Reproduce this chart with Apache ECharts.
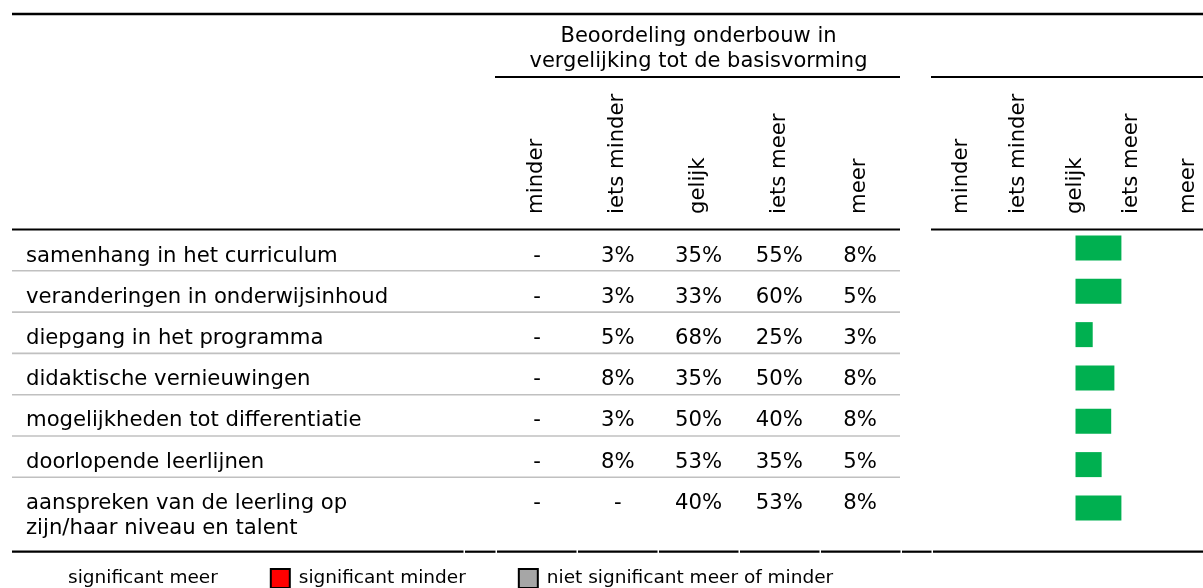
<!DOCTYPE html>
<html><head><meta charset="utf-8">
<script src="https://cdn.jsdelivr.net/npm/echarts@6/dist/echarts.min.js"></script>
<style>html,body{margin:0;padding:0;background:#fff}#c{width:1203px;height:588px}</style>
</head><body><div id="c"></div>
<script>
// ---- data ----
const items = [
  'samenhang in het curriculum',
  'veranderingen in onderwijsinhoud',
  'diepgang in het programma',
  'didaktische vernieuwingen',
  'mogelijkheden tot differentiatie',
  'doorlopende leerlijnen',
  'aanspreken van de leerling op\nzijn/haar niveau en talent'
];
const answers = ['minder', 'iets minder', 'gelijk', 'iets meer', 'meer'];
const pctMinder     = [null, null, null, null, null, null, null];
const pctIetsMinder = [3, 3, 5, 8, 3, 8, null];
const pctGelijk     = [35, 33, 68, 35, 50, 53, 40];
const pctIetsMeer   = [55, 60, 25, 50, 40, 35, 53];
const pctMeer       = [8, 5, 3, 8, 8, 5, 8];
// bar = deviation of the judgement from 'gelijk'
const barValues = [0.72, 0.72, 0.27, 0.61, 0.56, 0.41, 0.72];
const headerTitle = 'Beoordeling onderbouw in\nvergelijking tot de basisvorming';
const legendNames = ['significant meer', 'significant minder', 'niet significant meer of minder'];

// ---- build ----
const FONT = "'DejaVu Sans', Verdana, sans-serif";
const FS = 21.2;
const columns = [pctMinder, pctIetsMinder, pctGelijk, pctIetsMeer, pctMeer];
const tableData = [];
columns.forEach((col, c) => col.forEach((v, r) => tableData.push([c, r, v])));

// layout
const T = { left: 496.6, width: 403.75, top: 235.9, height: 287.9 };
const B = { left: 948, width: 256, top: 226.3, height: 303.3 };
const H = { left: 961.5, width: 227 };
const X0 = 12, XT = 900, XR = 931, XE = 1203;

function line(x1, y1, x2, y2, stroke, w) {
  return { type: 'line', silent: true, shape: { x1, y1, x2, y2 }, style: { stroke, lineWidth: w } };
}
const rules = [];
rules.push(line(X0, 14, XE, 14, '#000', 2.6));
rules.push(line(495, 77, XT, 77, '#000', 2.2));
rules.push(line(XR, 77, XE, 77, '#000', 2.2));
rules.push(line(X0, 229.5, XT, 229.5, '#000', 2.2));
rules.push(line(XR, 229.5, XE, 229.5, '#000', 2.2));
for (let k = 1; k < items.length; k++) {
  const y = 229.5 + 41.3 * k;
  rules.push(line(X0, y, XT, y, '#c0c0c0', 1.6));
}
const edges = [X0, 465, 497, 578, 659, 740, 821, 902, 933, XE + 1.5];
for (let i = 0; i < edges.length - 1; i++) {
  rules.push(line(edges[i], 551.7, edges[i + 1] - 1.5, 551.7, '#000', 2.2));
}

const headLabel = { interval: 0, rotate: 90, margin: 22, fontSize: FS, color: '#000', fontFamily: FONT };

const chart = echarts.init(document.getElementById('c'), null, { renderer: 'canvas' });
chart.setOption({
  animation: false,
  backgroundColor: '#fff',
  textStyle: { fontFamily: FONT, color: '#000' },
  title: {
    text: headerTitle, left: 693.5, top: 19, textAlign: 'center',
    textStyle: { fontFamily: FONT, fontSize: 21, fontWeight: 'normal', lineHeight: 25, color: '#000' }
  },
  legend: {
    data: [
      { name: legendNames[0], itemStyle: { opacity: 0 } },
      { name: legendNames[1] },
      { name: legendNames[2] }
    ],
    left: 35, top: 563, itemWidth: 19, itemHeight: 19, itemGap: 52, icon: 'rect',
    selectedMode: false,
    textStyle: { fontFamily: FONT, fontSize: 18.5, color: '#000', padding: [0, 0, 0, 4] }
  },
  grid: [
    { left: T.left, top: T.top, width: T.width, height: T.height },
    { left: B.left, top: B.top, width: B.width, height: B.height },
    { left: H.left, top: T.top, width: H.width, height: T.height },
    { left: T.left, top: T.top, width: T.width, height: T.height }
  ],
  xAxis: [
    { gridIndex: 0, type: 'category', data: answers, show: false },
    { gridIndex: 1, type: 'value', min: -2, max: 2, show: false },
    { gridIndex: 2, type: 'category', data: answers, position: 'top', boundaryGap: false,
      axisLine: { show: false }, axisTick: { show: false }, splitLine: { show: false },
      axisLabel: headLabel },
    { gridIndex: 3, type: 'category', data: answers, position: 'top',
      axisLine: { show: false }, axisTick: { show: false }, splitLine: { show: false },
      axisLabel: headLabel }
  ],
  yAxis: [
    { gridIndex: 0, type: 'category', data: items, inverse: true,
      axisLine: { show: false }, axisTick: { show: false }, splitLine: { show: false },
      axisLabel: { interval: 0, align: 'left', margin: T.left - 26, fontSize: FS, lineHeight: 25,
        color: '#000', fontFamily: FONT,
        formatter: v => v.indexOf('\n') >= 0 ? '\n' + v : v } },
    { gridIndex: 1, type: 'category', data: items, inverse: true, show: false },
    { gridIndex: 2, type: 'value', show: false },
    { gridIndex: 3, type: 'value', show: false }
  ],
  series: [
    { type: 'scatter', xAxisIndex: 0, yAxisIndex: 0, data: tableData, symbolSize: 0.01,
      itemStyle: { color: '#000', opacity: 1 }, silent: true,
      label: { show: true, position: 'inside', fontSize: FS, color: '#000', opacity: 1,
        textBorderWidth: 0, fontFamily: FONT,
        formatter: p => p.value[2] == null ? '-' : p.value[2] + '%' } },
    { name: legendNames[0], type: 'bar', xAxisIndex: 1, yAxisIndex: 1, stack: 's',
      data: barValues, barWidth: 25, itemStyle: { color: '#00B050' } },
    { name: legendNames[1], type: 'bar', xAxisIndex: 1, yAxisIndex: 1, stack: 's',
      data: [], barWidth: 25, itemStyle: { color: '#FF0000', borderColor: '#000', borderWidth: 2 } },
    { name: legendNames[2], type: 'bar', xAxisIndex: 1, yAxisIndex: 1, stack: 's',
      data: [], barWidth: 25, itemStyle: { color: '#A6A6A6', borderColor: '#000', borderWidth: 2 } }
  ],
  graphic: rules
});
</script>
</body></html>
